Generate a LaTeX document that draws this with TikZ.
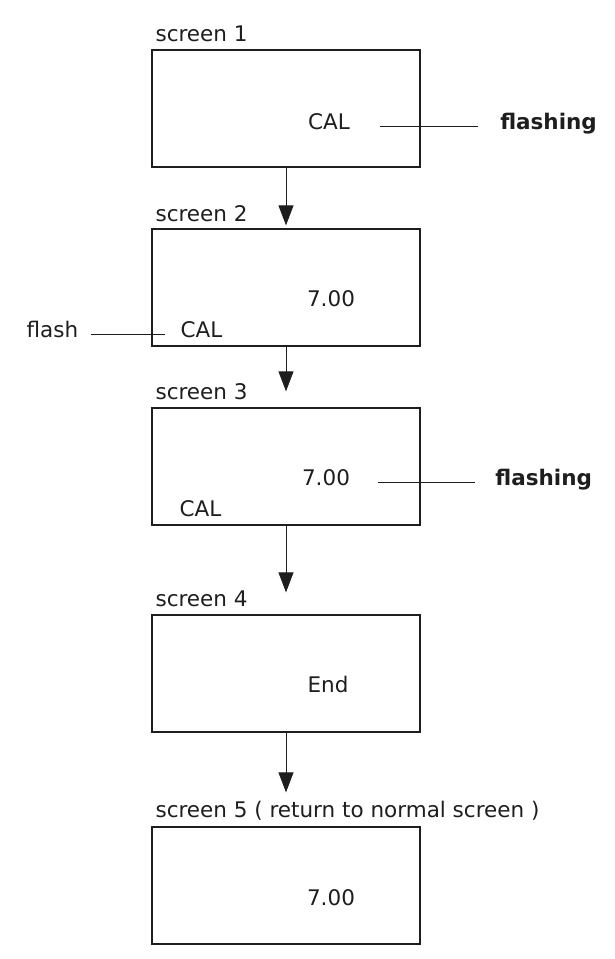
\documentclass[tikz,border=0pt]{standalone}
\usepackage{fontspec}
\setmainfont{DejaVu Sans}
\usepackage{xcolor}
\definecolor{ink}{HTML}{1E1E1E}
\usepackage{tikz}
\usetikzlibrary{shapes,arrows,arrows.meta}
\usetikzlibrary{positioning}
\tikzstyle{screen} = [rectangle, draw=ink, line width=1.3pt,
    minimum width=268pt, minimum height=117pt, inner sep=0pt]
\tikzstyle{readout} = [inner sep=0pt, text=ink, text height=1.5ex, text depth=.3ex]
\tikzstyle{note} = [readout, font=\fontsize{21.5}{26}\selectfont\bfseries]
\tikzstyle{tag} = [inner sep=0pt, text=ink, anchor=base west]
\tikzstyle{line} = [draw=ink, line width=0.8pt, -{Triangle[length=20pt,width=15pt]}]
\tikzstyle{lead} = [draw=ink, line width=0.8pt]

\begin{document}
\begin{tikzpicture}[x=1pt, y=1pt, node distance=179pt, font=\fontsize{21.5}{26}\selectfont]
\useasboundingbox (0,0) rectangle (614,-959);

    % Place screens
    \node [screen] (s1) at (286,-108.5) {};
    \node [screen, below of=s1] (s2) {};
    \node [screen, below of=s2] (s3) {};
    \node [screen, below of=s3, node distance=207pt] (s4) {};
    \node [screen, below of=s4, node distance=212pt] (s5) {};

    % Screen titles
    \node [tag] (t1) at ([shift={(4,8)}]s1.north west) {screen 1};
    \node [tag] (t2) at ([shift={(4,7)}]s2.north west) {screen 2};
    \node [tag] (t3) at ([shift={(4,8)}]s3.north west) {screen 3};
    \node [tag] (t4) at ([shift={(4,8)}]s4.north west) {screen 4};
    \node [tag] (t5) at ([shift={(4,9)}]s5.north west) {screen 5 ( return to normal screen )};

    % Display contents
    \node [readout] (cal1) at ([shift={(43,-18)}]s1.center) {CAL};
    \node [readout] (num2) at ([shift={(45,-16)}]s2.center) {7.00};
    \node [readout, anchor=west] (cal2) at ([shift={(29,12)}]s2.south west) {CAL};
    \node [readout] (num3) at ([shift={(40,-16)}]s3.center) {7.00};
    \node [readout, anchor=west] (cal3) at ([shift={(28,12)}]s3.south west) {CAL};
    \node [readout] (end4) at ([shift={(42,-16)}]s4.center) {End};
    \node [readout] (num5) at ([shift={(45,-17)}]s5.center) {7.00};

    % Remarks
    \node [note, right=150pt of cal1] (fl1) {flashing};
    \node [readout, left=102pt of cal2] (fl2) {flash};
    \node [note, right=145pt of num3] (fl3) {flashing};

    \path [lead, shorten <=30pt, shorten >=22pt] (cal1) -- (fl1);
    \path [lead, shorten <=13pt, shorten >=15pt] (fl2) -- (cal2);
    \path [lead, shorten <=28pt, shorten >=20pt] (num3) -- (fl3);

    % Sequence
    \path [line, shorten >=3pt] (s1) -- (s2);
    \path [line, shorten >=16pt] (s2) -- (s3);
    \path [line, shorten >=22pt] (s3) -- (s4);
    \path [line, shorten >=34pt] (s4) -- (s5);
\end{tikzpicture}
\end{document}
